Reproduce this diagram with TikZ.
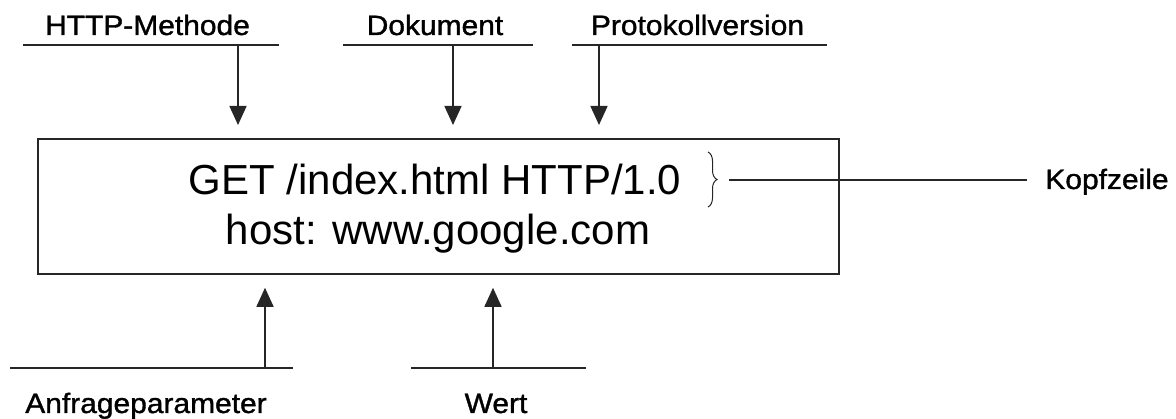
\documentclass[tikz,border=0pt]{standalone}
\usepackage{fontspec}
\setmainfont{Liberation Sans}
\newfontfamily\capfont[FakeBold=1.2]{Liberation Sans}
\usetikzlibrary{arrows.meta,decorations.pathreplacing}

% slightly widened caption lettering
\newcommand\wide[1]{\scalebox{1.07}[1]{#1}}

\tikzset{
  caption/.style={inner sep=0pt, anchor=base, font=\capfont\fontsize{28}{28}\selectfont},
  reqline/.style={inner sep=0pt, anchor=base, font=\fontsize{42}{42}\selectfont},
  rule/.style={line width=1.7pt, draw=black!85},
  pointer/.style={line width=1.6pt, draw=black!85,
    -{Triangle[length=19pt,width=17pt]}, shorten >=13pt},
}

\begin{document}
\begin{tikzpicture}[x=1pt,y=-1pt]
\useasboundingbox (0,0) rectangle (1176,419);

% request box
\node[draw=black!85, line width=1.8pt, minimum width=801pt, minimum height=135pt,
      inner sep=0pt, anchor=north west] (box) at (37,138) {};
\node[reqline] (first) at (435,195) {GET /index.html HTTP/1.0};
\node[reqline] (host)  at (438,245) {host: www.google.com};

% captions above the box
\node[caption] (method)   at (147.5,35) {\wide{HTTP-Methode}};
\node[caption] (document) at (435,35)   {\wide{Dokument}};
\node[caption] (protocol) at (697.5,35) {\wide{Protokollversion}};

\coordinate (methodL) at (23,45);   \coordinate (methodR) at (279,45);
\coordinate (docL)    at (343,45);  \coordinate (docR)    at (533,45);
\coordinate (protoL)  at (572,45);  \coordinate (protoR)  at (827,45);
\draw[rule] (methodL) -- (methodR);
\draw[rule] (docL) -- (docR);
\draw[rule] (protoL) -- (protoR);

\coordinate (methodA) at (238,45);
\coordinate (docA)    at (453,45);
\coordinate (protoA)  at (599,45);
\draw[pointer] (methodA) -- (methodA |- box.north);
\draw[pointer] (docA) -- (docA |- box.north);
\draw[pointer] (protoA) -- (protoA |- box.north);

% captions below the box
\node[caption] (param) at (146,413) {\wide{Anfrageparameter}};
\node[caption] (value) at (496,413) {\wide{Wert}};

\coordinate (paramL) at (10,368);  \coordinate (paramR) at (293,368);
\coordinate (valueL) at (411,368); \coordinate (valueR) at (586,368);
\draw[rule] (paramL) -- (paramR);
\draw[rule] (valueL) -- (valueR);

\coordinate (paramA) at (265,368);
\coordinate (valueA) at (493,368);
\draw[pointer] (paramA) -- (paramA |- box.south);
\draw[pointer] (valueA) -- (valueA |- box.south);

% brace marking the header line
\coordinate (braceTop) at (708,152);
\coordinate (braceBot) at (708,207);
\draw[decorate, decoration={brace, amplitude=9pt}, line width=1pt, black!85]
  (braceTop) -- (braceBot);
\coordinate (braceTip) at (729,180);

\node[caption] (header) at (1107,189) {\wide{Kopfzeile}};
\draw[rule] (braceTip) -- ([xshift=-18pt]header.west |- braceTip);
\end{tikzpicture}
\end{document}
